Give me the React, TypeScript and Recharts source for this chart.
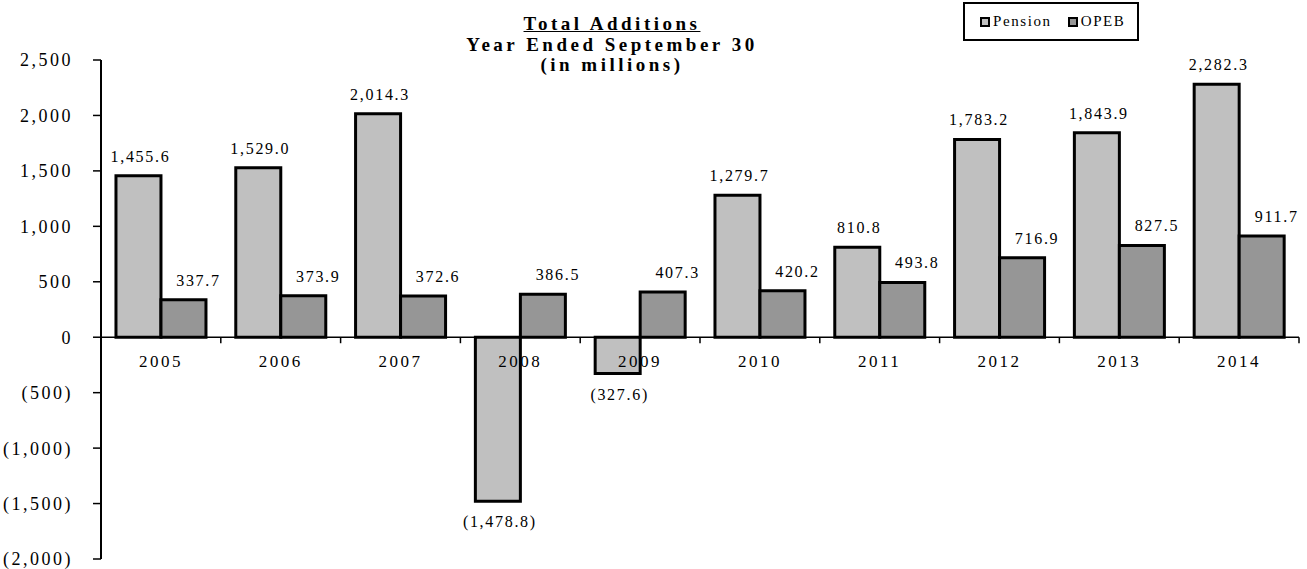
import { BarChart, Bar, XAxis, YAxis, ReferenceLine, LabelList } from 'recharts';

const years = ['2005', '2006', '2007', '2008', '2009', '2010', '2011', '2012', '2013', '2014'];
const pension = [1455.6, 1529.0, 2014.3, -1478.8, -327.6, 1279.7, 810.8, 1783.2, 1843.9, 2282.3];
const opeb = [337.7, 373.9, 372.6, 386.5, 407.3, 420.2, 493.8, 716.9, 827.5, 911.7];
const yTicks = [-2000, -1500, -1000, -500, 0, 500, 1000, 1500, 2000, 2500];

const W = 1307;
const H = 569;
const TOP = 60;
const BOTTOM = 10;
const LEFT = 101;
const RIGHT = 8;
const Y_MIN = -2000;
const Y_MAX = 2500;
const PLOT_H = H - TOP - BOTTOM;
const ZERO_Y = TOP + (PLOT_H * Y_MAX) / (Y_MAX - Y_MIN);
const BAND = (W - LEFT - RIGHT) / years.length;

const FONT = '"Liberation Serif", "Times New Roman", serif';

const data = years.map((year, i) => ({ year, pension: pension[i], opeb: opeb[i] }));

const fmt = (v: number) => {
  const s = Math.abs(v).toLocaleString('en-US', { minimumFractionDigits: 1, maximumFractionDigits: 1 });
  return v < 0 ? `(${s})` : s;
};

const fmtTick = (v: number) => {
  const s = Math.abs(v).toLocaleString('en-US');
  return v < 0 ? `(${s})` : s;
};

// category labels hang under the zero line, with tick marks between groups
const YearTick = (props: any) => {
  const { x, payload, index } = props;
  const last = index === years.length - 1;
  return (
    <g>
      <line x1={x - BAND / 2} x2={x - BAND / 2} y1={ZERO_Y} y2={ZERO_Y + 6} stroke="#000" strokeWidth={1.5} />
      {last && <line x1={x + BAND / 2} x2={x + BAND / 2} y1={ZERO_Y} y2={ZERO_Y + 6} stroke="#000" strokeWidth={1.5} />}
      <text x={x} y={ZERO_Y + 30} textAnchor="middle" fontFamily={FONT} fontSize={17} letterSpacing={2.5} fill="#000">
        {payload.value}
      </text>
    </g>
  );
};

const valueLabel = (dx: number) => (props: any) => {
  const { x, y, width, height, value } = props;
  const top = Math.min(y, y + height);
  const bottom = Math.max(y, y + height);
  const ty = value < 0 ? bottom + 26 : top - 14;
  return (
    <text x={x + width / 2 + dx} y={ty} textAnchor="middle" fontFamily={FONT} fontSize={16} letterSpacing={1.7} fill="#000">
      {fmt(value)}
    </text>
  );
};

const LegendBox = () => (
  <div
    style={{
      position: 'absolute',
      left: 963,
      top: 2,
      width: 176,
      height: 39,
      border: '2px solid #000',
      background: '#fff',
      display: 'flex',
      alignItems: 'center',
      fontFamily: FONT,
      fontSize: 15,
      letterSpacing: 1.6,
      boxSizing: 'border-box',
      paddingLeft: 15,
      zIndex: 2,
    }}
  >
    <span style={{ width: 6, height: 6, border: '2.5px solid #000', background: '#c0c0c0', marginRight: 3 }} />
    <span style={{ marginRight: 16 }}>Pension</span>
    <span style={{ width: 6, height: 6, border: '2.5px solid #000', background: '#969696', marginRight: 3 }} />
    <span>OPEB</span>
  </div>
);

export default function App() {
  return (
    <div style={{ position: 'absolute', left: 0, top: 0, width: W, height: H, background: '#fff' }}>
      <BarChart
        width={W}
        height={H}
        data={data}
        margin={{ top: TOP, right: RIGHT, bottom: 0, left: 0 }}
        barCategoryGap="12.5%"
        barGap={0}
      >
        <XAxis dataKey="year" height={BOTTOM} axisLine={false} tickLine={false} tick={<YearTick />} interval={0} />
        <YAxis
          width={LEFT}
          domain={[Y_MIN, Y_MAX]}
          ticks={yTicks}
          interval={0}
          tickFormatter={fmtTick}
          axisLine={{ stroke: '#000', strokeWidth: 2 }}
          tickLine={{ stroke: '#000', strokeWidth: 1.5 }}
          tickSize={8}
          tickMargin={20}
          tick={{ fontFamily: FONT, fontSize: 18, letterSpacing: 2.5, fill: '#000' }}
        />
        <Bar dataKey="pension" name="Pension" fill="#c0c0c0" stroke="#000" strokeWidth={3} isAnimationActive={false}>
          <LabelList dataKey="pension" content={valueLabel(2)} />
        </Bar>
        <Bar dataKey="opeb" name="OPEB" fill="#969696" stroke="#000" strokeWidth={3} isAnimationActive={false}>
          <LabelList dataKey="opeb" content={valueLabel(15)} />
        </Bar>
        <ReferenceLine y={0} stroke="#000" strokeWidth={1.5} />
      </BarChart>
      <div
        style={{
          position: 'absolute',
          left: 412,
          top: 14,
          width: 400,
          textAlign: 'center',
          fontFamily: FONT,
          fontWeight: 'bold',
          fontSize: 19,
          lineHeight: '20.5px',
          letterSpacing: 3.5,
          color: '#000',
        }}
      >
        <div style={{ textDecoration: 'underline' }}>Total Additions</div>
        <div>Year Ended September 30</div>
        <div>(in millions)</div>
      </div>
      <LegendBox />
    </div>
  );
}
